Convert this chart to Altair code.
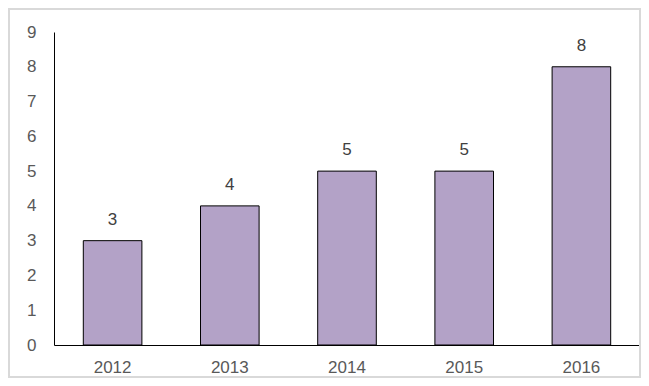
import altair as alt
import pandas as pd

years = ["2012", "2013", "2014", "2015", "2016"]
counts = [3, 4, 5, 5, 8]

df = pd.DataFrame({"year": years, "count": counts})

FONT = "Liberation Sans"

PW, PH = 586, 313
PL, PT, PR, PB = 46, 24, 1, 33

x = alt.X("year:N", sort=years, title=None,
          scale=alt.Scale(paddingInner=0.5, paddingOuter=0.25),
          axis=alt.Axis(labelAngle=0, ticks=False, domainColor="black", domainWidth=1,
                        labelColor="#595959", labelFontSize=17, labelFont=FONT,
                        labelPadding=14))
y = alt.Y("count:Q", title=None,
          scale=alt.Scale(domain=[0, 9], nice=False),
          axis=alt.Axis(values=list(range(0, 10)), tickCount=10, ticks=False, grid=False,
                        labelOverlap=False, labelFlush=False,
                        domainColor="black", domainWidth=1,
                        labelColor="#595959", labelFontSize=17, labelFont=FONT,
                        labelPadding=18))

bars = alt.Chart(df).mark_bar(fill="#B3A2C7", stroke="black", strokeWidth=1).encode(x=x, y=y)

labels = alt.Chart(df).mark_text(baseline="bottom", dy=-12, fontSize=17, font=FONT,
                                 color="#404040").encode(
    x=x, y=y, text="count:Q")

border = alt.Chart(df).mark_rect(fill=None, stroke="#d9d9d9", strokeWidth=2, clip=False).encode(
    x=alt.value(-PL + 1), x2=alt.value(PW + PR - 1),
    y=alt.value(-PT + 1), y2=alt.value(PH + PB - 1))

chart = alt.layer(border, bars, labels).properties(
    width=PW, height=PH,
    autosize=alt.AutoSizeParams(type="none"),
    padding={"left": PL, "top": PT, "right": PR, "bottom": PB},
    background="white",
).configure_view(stroke=None)

chart.save("out.html", embed_options={"renderer": "svg", "actions": False})
